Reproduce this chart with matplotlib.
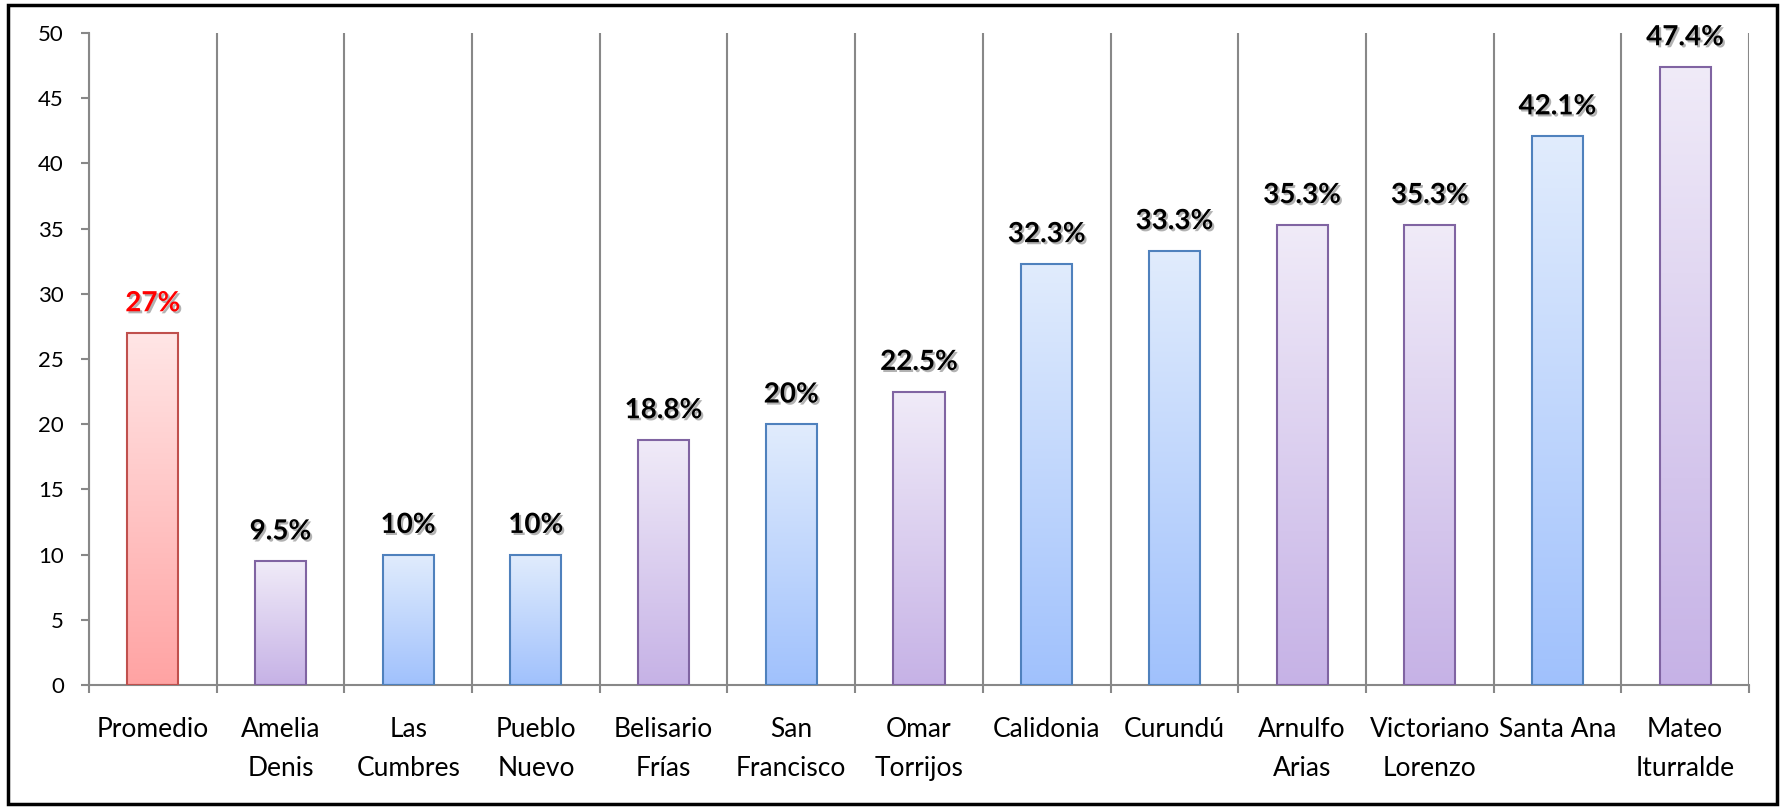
import numpy as np
import matplotlib.pyplot as plt
from matplotlib.colors import LinearSegmentedColormap
from matplotlib.patches import Rectangle
import matplotlib.patheffects as pe

categorias = ['Promedio', 'Amelia\nDenis', 'Las\nCumbres', 'Pueblo\nNuevo', 'Belisario\nFrías',
              'San\nFrancisco', 'Omar\nTorrijos', 'Calidonia', 'Curundú', 'Arnulfo\nArias',
              'Victoriano\nLorenzo', 'Santa Ana', 'Mateo\nIturralde']
valores = [27, 9.5, 10, 10, 18.8, 20, 22.5, 32.3, 33.3, 35.3, 35.3, 42.1, 47.4]
etiquetas = ['27%', '9.5%', '10%', '10%', '18.8%', '20%', '22.5%', '32.3%', '33.3%',
             '35.3%', '35.3%', '42.1%', '47.4%']
tipo = ['rojo', 'morado', 'azul', 'azul', 'morado', 'azul', 'morado', 'azul', 'azul',
        'morado', 'morado', 'azul', 'morado']

# (arriba, abajo, borde)
estilos = {
    'rojo': ('#ffe6e6', '#ffa3a3', '#c0504d'),
    'morado': ('#f0ebf8', '#c6b2e6', '#8064a2'),
    'azul': ('#e1ecfd', '#a0c1fc', '#4f81bd'),
}

plt.rcParams['font.family'] = ['Lato', 'DejaVu Sans']

fig = plt.figure(figsize=(17.86, 8.09), dpi=100)
ax = fig.add_axes([0.0498, 0.1533, 0.9295, 0.8059])

x = np.arange(len(valores))
ancho = 0.40
gris = '#888888'

for i, v in enumerate(valores):
    arriba, abajo, borde = estilos[tipo[i]]
    cmap = LinearSegmentedColormap.from_list('g', [abajo, arriba])
    grad = np.linspace(0, 1, 256).reshape(-1, 1)
    im = ax.imshow(grad, cmap=cmap, origin='lower', aspect='auto',
                   extent=(x[i] - ancho / 2, x[i] + ancho / 2, 0, v), zorder=2)
    barra = ax.bar(x[i], v, width=ancho, facecolor='none', edgecolor=borde,
                   linewidth=1.5, zorder=3)[0]
    im.set_clip_path(barra)
    color_txt = 'red' if tipo[i] == 'rojo' else 'black'
    ax.annotate(etiquetas[i], (x[i], v), xytext=(0, 12), textcoords='offset points',
                ha='center', va='bottom', fontsize=20, fontweight='bold', color=color_txt,
                path_effects=[pe.withSimplePatchShadow(offset=(1.5, -1.5), shadow_rgbFace='#555555', alpha=0.45)],
                zorder=4)

ax.set_xlim(-0.5, len(valores) - 0.5)
ax.set_ylim(0, 50)
ax.set_yticks(range(0, 51, 5))

ax.set_xticks(x)
ax.set_xticklabels(categorias, fontsize=19, linespacing=1.7)
ax.set_xticks(np.arange(-0.5, len(valores), 1), minor=True)
ax.tick_params(axis='x', which='major', length=0, pad=23)
ax.tick_params(axis='x', which='minor', length=6, color=gris, width=1.5, direction='out')
ax.tick_params(axis='y', labelsize=16, length=6, color=gris, width=1.5, pad=12)
ax.grid(axis='x', which='minor', color=gris, linewidth=1.5, zorder=1)

for lado in ['top', 'right']:
    ax.spines[lado].set_visible(False)
for lado in ['left', 'bottom']:
    ax.spines[lado].set_color(gris)
    ax.spines[lado].set_linewidth(1.5)

fig.patches.append(Rectangle((0.0045, 0.006), 0.9905, 0.988, transform=fig.transFigure,
                             fill=False, edgecolor='black', linewidth=2.5))

fig.savefig('out.png', dpi=100)
